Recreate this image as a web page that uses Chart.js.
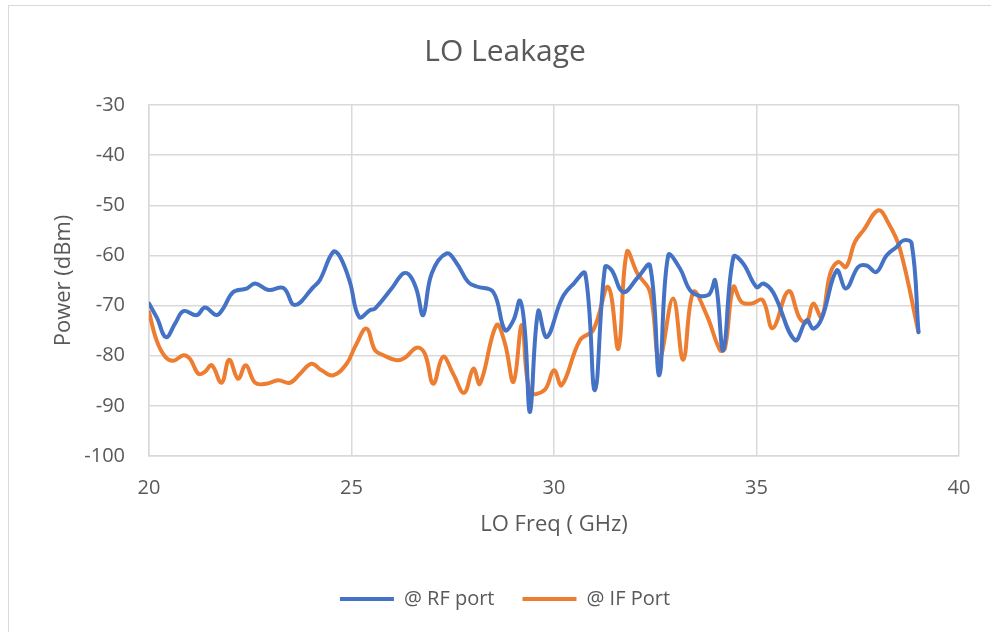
<!DOCTYPE html>
<html>
<head>
<meta charset="utf-8">
<script src="https://cdn.jsdelivr.net/npm/chart.js@4"></script>
<style>
  body { margin: 0; background: #fff; }
  .frame { position: absolute; left: 8px; top: 5px; width: 1000px; height: 700px; border: 1.5px solid #d9d9d9; }
  #leak { position: absolute; left: 0; top: 0; }
</style>
</head>
<body>
<div class="frame"></div>
<canvas id="leak" width="991" height="632"></canvas>
<script>
// LO freq (GHz) / power (dBm)
const rfFreq = [20.0, 20.2, 20.42, 20.65, 20.85, 21.18, 21.38, 21.67, 21.83, 22.08, 22.41, 22.62, 22.95, 23.32, 23.6, 24.06, 24.22, 24.55, 24.72, 24.96,
  25.19, 25.46, 25.58, 25.99, 26.28, 26.44, 26.61, 26.77, 26.98, 27.35, 27.6, 27.88, 28.09, 28.5, 28.79, 29.0, 29.16, 29.28, 29.41, 29.61,
  29.82, 30.2, 30.5, 30.77, 31.01, 31.26, 31.42, 31.71, 32.08, 32.37, 32.6, 32.82, 33.11, 33.4, 33.81, 33.98, 34.18, 34.43, 34.67, 35.0,
  35.17, 35.42, 35.95, 36.24, 36.4, 36.61, 36.98, 37.21, 37.51, 37.72, 37.96, 38.21, 38.46, 38.63, 38.83, 39.0];
const rfPower = [-69.6, -72.5, -76.3, -73.5, -71.1, -71.9, -70.4, -71.9, -70.6, -67.3, -66.6, -65.6, -66.9, -66.5, -69.9, -66.3, -64.9, -59.3, -60.3, -65.3,
  -72.3, -70.9, -70.6, -66.6, -63.6, -64.0, -66.9, -71.9, -63.6, -59.6, -61.6, -65.3, -66.2, -67.3, -74.9, -72.9, -69.0, -74.9, -91.2, -71.1,
  -76.3, -68.5, -65.5, -63.6, -86.9, -62.3, -62.9, -67.3, -64.3, -62.0, -83.9, -60.0, -62.6, -67.3, -67.9, -65.0, -78.9, -60.3, -61.6, -66.3,
  -65.6, -67.5, -76.9, -72.9, -74.6, -72.6, -63.0, -66.6, -62.3, -62.0, -63.3, -60.0, -58.3, -57.0, -57.6, -75.3];

const ifFreq = [20.0, 20.19, 20.4, 20.6, 20.85, 21.01, 21.22, 21.38, 21.55, 21.79, 21.98, 22.2, 22.39, 22.62, 22.9, 23.19, 23.48, 23.73, 24.01, 24.26,
  24.55, 24.88, 25.1, 25.37, 25.58, 25.79, 26.11, 26.32, 26.61, 26.81, 27.02, 27.26, 27.51, 27.78, 28.01, 28.17, 28.58, 28.79, 29.0, 29.21,
  29.41, 29.76, 30.0, 30.19, 30.64, 30.97, 31.34, 31.59, 31.8, 32.06, 32.37, 32.6, 32.94, 33.19, 33.44, 33.77, 34.1, 34.22, 34.43, 34.63,
  34.88, 35.15, 35.4, 35.79, 36.07, 36.24, 36.4, 36.61, 36.82, 37.02, 37.21, 37.43, 37.64, 38.01, 38.26, 38.54, 39.0];
const ifPower = [-71.3, -77.0, -80.2, -81.0, -79.9, -80.6, -83.6, -83.2, -81.9, -85.4, -80.8, -84.6, -81.9, -85.4, -85.6, -84.9, -85.4, -83.6, -81.6, -82.9,
  -83.9, -81.6, -78.0, -74.6, -78.9, -79.9, -80.9, -80.4, -78.4, -79.6, -85.6, -80.2, -83.6, -87.4, -82.6, -85.6, -73.9, -77.6, -85.2, -73.9,
  -87.2, -86.9, -82.9, -85.9, -76.9, -74.9, -66.3, -78.6, -59.3, -63.6, -67.3, -80.6, -68.6, -80.8, -67.3, -71.9, -78.9, -78.6, -66.3, -69.3,
  -69.6, -68.9, -74.5, -67.1, -72.6, -73.3, -69.6, -72.3, -63.6, -61.3, -62.3, -57.3, -55.0, -51.0, -53.6, -58.6, -75.3];

const seriesNames = ['@ RF port', '@ IF Port'];

const toPoints = (xs, ys) => xs.map((x, i) => ({x: x, y: ys[i]}));

Chart.defaults.font.family = "'Open Sans', sans-serif";
Chart.defaults.color = '#595959';

const gridColor = '#d9d9d9';

const leakData = {
  datasets: [{
    label: seriesNames[0],
    data: toPoints(rfFreq, rfPower),
    borderColor: '#4472C4',
    backgroundColor: '#4472C4',
    borderWidth: 4,
    borderCapStyle: 'round',
    borderJoinStyle: 'round',
    pointRadius: 0,
    tension: 0.4
  }, {
    label: seriesNames[1],
    data: toPoints(ifFreq, ifPower),
    borderColor: '#ED7D31',
    backgroundColor: '#ED7D31',
    borderWidth: 4,
    borderCapStyle: 'round',
    borderJoinStyle: 'round',
    pointRadius: 0,
    tension: 0.4
  }]
};

const leakConfig = {
  type: 'line',
  data: leakData,
  options: {
    responsive: false,
    animation: false,
    layout: {
      padding: { top: 0, bottom: 13, left: 51, right: 32 }
    },
    plugins: {
      title: {
        display: true,
        text: 'LO Leakage',
        color: '#595959',
        font: { size: 30, weight: 'normal' },
        padding: { top: 34, bottom: 35 }
      },
      legend: {
        position: 'bottom',
        labels: {
          usePointStyle: true,
          pointStyle: 'line',
          pointStyleWidth: 54,
          boxHeight: 20,
          padding: 28,
          font: { size: 20 }
        }
      },
      tooltip: { enabled: false }
    },
    scales: {
      x: {
        type: 'linear',
        min: 20,
        max: 40,
        ticks: { stepSize: 5, padding: 20, font: { size: 20 } },
        grid: { color: gridColor, lineWidth: 1.5, drawTicks: false },
        border: { color: gridColor, width: 1.5 },
        title: {
          display: true,
          text: 'LO Freq ( GHz)',
          font: { size: 22 },
          padding: { top: 0, bottom: 23 }
        },
        afterFit: (scale) => { scale.height = 105; }
      },
      y: {
        min: -100,
        max: -30,
        ticks: { stepSize: 10, padding: 24, font: { size: 20 } },
        grid: { color: gridColor, lineWidth: 1.5, drawTicks: false },
        border: { color: gridColor, width: 1.5 },
        title: {
          display: true,
          text: 'Power (dBm)',
          font: { size: 22 },
          padding: { top: 0, bottom: 0 }
        },
        afterFit: (scale) => { scale.width = 98; }
      }
    }
  }
};

const leakChart = new Chart(document.getElementById('leak'), leakConfig);
</script>
</body>
</html>
